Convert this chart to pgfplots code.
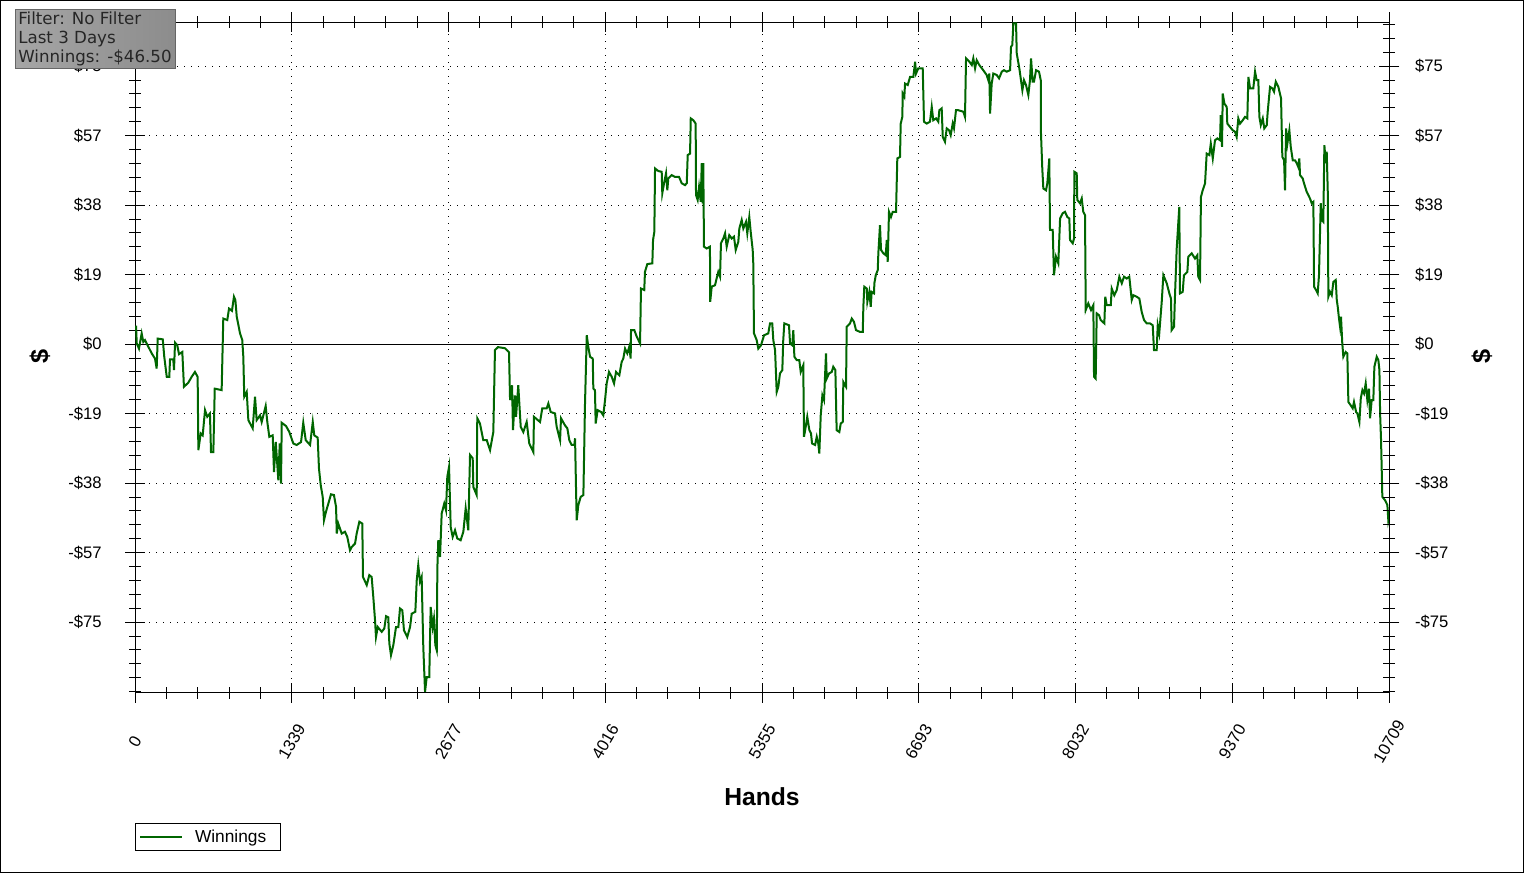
\documentclass[border=0pt]{standalone}
\usepackage{fontspec}
\setmainfont{Liberation Sans}
\newfontfamily\infofont{DejaVu Sans}
\usepackage{pgfplots}
\usepackage{pgfplotstable}
\pgfplotsset{compat=1.18}
\definecolor{wgreen}{RGB}{0,102,0}

\pgfplotstableread{
x y
0 4.7
9 4.7
15 0.2
34 -1.2
57 2.9
71 0.6
85 1.1
114 -0.7
143 -2.5
171 -3.9
185 -6.6
194 1.5
237 1.3
250 -3.4
271 -8.8
293 -8.8
299 -4.1
327 -4.1
333 -7.0
342 0.4
361 -0.3
376 -2.7
404 -2.1
418 -11.5
455 -10.4
484 -8.8
512 -7.5
535 -8.8
541 -28.6
561 -24.1
578 -24.6
598 -17.8
617 -19.6
640 -18.7
649 -29.1
669 -29.1
681 -12.0
740 -12.4
754 6.9
788 6.5
803 9.6
828 9.0
845 12.8
857 11.9
869 7.4
897 2.9
916 1.1
925 -3.4
933 -14.2
954 -12.9
968 -20.5
1005 -22.7
1025 -14.2
1039 -20.5
1068 -19.2
1082 -21.0
1116 -16.7
1130 -21.0
1147 -25.0
1176 -24.6
1187 -34.5
1202 -26.4
1224 -36.7
1236 -26.8
1247 -37.6
1253 -21.2
1290 -22.1
1318 -23.7
1352 -26.8
1381 -27.2
1418 -26.4
1437 -21.2
1458 -25.9
1495 -27.2
1518 -21.0
1531 -24.6
1560 -25.2
1571 -33.5
1586 -38.0
1603 -41.2
1614 -47.5
1631 -45.2
1674 -40.5
1699 -40.7
1717 -43.9
1723 -51.1
1736 -48.4
1765 -51.1
1793 -50.6
1813 -52.0
1836 -55.6
1851 -54.7
1879 -53.8
1893 -51.1
1916 -47.9
1941 -48.4
1947 -62.8
1979 -65.0
2001 -62.3
2021 -62.8
2035 -68.2
2050 -74.5
2058 -79.0
2073 -76.3
2107 -77.6
2129 -76.7
2144 -73.4
2163 -73.7
2172 -80.7
2186 -83.9
2206 -81.2
2229 -76.3
2249 -76.3
2263 -71.3
2283 -71.8
2297 -77.2
2325 -79.0
2349 -76.3
2363 -72.7
2394 -72.2
2406 -63.7
2419 -59.6
2434 -64.1
2448 -62.8
2462 -81.7
2477 -93.8
2491 -89.8
2513 -89.8
2525 -70.9
2542 -76.3
2553 -74.0
2565 -81.2
2577 -82.6
2582 -60.5
2590 -52.9
2605 -57.4
2619 -45.7
2641 -43.0
2656 -44.8
2667 -35.8
2682 -33.1
2696 -49.3
2713 -52.0
2733 -50.2
2752 -52.4
2781 -52.9
2804 -50.6
2824 -44.3
2846 -50.2
2861 -29.9
2884 -30.8
2889 -38.5
2918 -40.7
2923 -20.0
2946 -21.4
2974 -25.9
3004 -25.9
3032 -28.6
3060 -23.7
3074 -1.6
3100 -0.8
3160 -1.1
3194 -2.2
3203 -15.1
3220 -11.1
3228 -23.2
3245 -13.8
3254 -19.6
3273 -11.1
3294 -22.3
3316 -23.7
3345 -21.0
3367 -26.8
3402 -29.1
3407 -19.6
3459 -21.0
3478 -17.3
3516 -17.3
3530 -16.0
3550 -18.3
3587 -18.7
3601 -22.3
3630 -25.9
3638 -20.0
3672 -21.9
3692 -22.7
3709 -25.9
3729 -27.2
3752 -27.2
3758 -25.4
3766 -38.5
3772 -47.5
3786 -43.4
3806 -41.2
3829 -40.7
3837 -26.8
3843 -16.0
3858 2.4
3871 -0.7
3886 -3.4
3909 -3.9
3914 -12.0
3928 -12.4
3934 -21.4
3951 -17.8
3980 -18.3
3999 -19.2
4014 -15.1
4028 -10.6
4048 -7.5
4071 -8.8
4091 -10.6
4108 -7.5
4136 -8.4
4156 -4.8
4170 -3.9
4185 -1.2
4204 -2.5
4221 -0.7
4233 -3.9
4236 3.8
4264 3.8
4285 2.0
4313 0.2
4321 15.0
4349 14.6
4355 19.5
4375 21.6
4418 21.8
4424 28.1
4435 30.3
4441 47.4
4469 46.7
4498 46.5
4503 40.7
4518 43.4
4535 46.1
4546 41.5
4554 44.7
4583 45.6
4612 45.1
4646 45.1
4669 43.4
4697 42.9
4712 43.4
4720 51.0
4740 51.4
4746 60.9
4768 60.4
4788 59.5
4791 40.2
4805 38.9
4817 42.4
4831 38.4
4840 48.8
4848 38.0
4853 48.8
4859 26.3
4882 25.8
4910 26.3
4912 11.4
4925 15.5
4953 15.9
4981 19.5
4996 18.2
5004 27.2
5024 28.5
5039 29.9
5053 26.3
5075 29.4
5096 28.5
5115 29.0
5130 25.4
5152 27.6
5161 31.2
5181 33.5
5195 31.2
5218 33.0
5229 29.9
5246 34.3
5258 30.3
5275 25.4
5280 21.8
5286 2.9
5309 1.1
5323 -1.2
5346 -0.3
5372 2.4
5408 2.9
5423 5.6
5442 5.6
5451 1.1
5466 -1.6
5480 -12.9
5494 -11.5
5508 -7.9
5528 -7.0
5536 1.1
5545 5.6
5585 5.1
5594 0.2
5613 -0.3
5622 3.8
5631 -3.4
5651 -4.3
5673 -4.3
5685 -7.5
5707 -5.7
5713 -25.0
5730 -21.9
5741 -19.6
5759 -23.2
5773 -24.1
5782 -26.8
5808 -27.2
5822 -25.0
5835 -26.8
5844 -29.5
5856 -19.2
5870 -13.8
5884 -15.1
5901 -2.5
5907 -9.3
5927 -7.9
5950 -7.5
5963 -6.1
5981 -7.0
5992 -23.2
6015 -23.7
6027 -21.4
6044 -21.0
6049 -10.2
6072 -11.5
6078 4.7
6106 5.6
6121 6.9
6140 6.0
6157 3.8
6191 3.3
6215 3.3
6220 10.1
6228 15.5
6249 15.0
6254 11.4
6271 14.1
6283 10.1
6291 14.1
6311 13.7
6314 16.4
6326 18.6
6343 20.0
6348 24.5
6362 32.1
6371 25.4
6391 24.5
6411 24.0
6420 28.1
6428 22.2
6439 35.7
6456 34.3
6471 35.7
6499 35.7
6510 50.1
6533 50.5
6539 59.5
6553 61.3
6556 67.6
6570 66.7
6576 70.3
6599 69.9
6619 72.1
6647 72.1
6662 76.2
6670 73.0
6689 74.4
6727 74.4
6738 60.0
6761 59.5
6789 60.0
6804 64.0
6817 60.4
6841 60.9
6860 60.0
6869 63.1
6889 63.6
6898 55.9
6917 54.6
6932 58.2
6952 57.7
6966 56.4
6983 59.5
6994 58.2
7011 63.1
7031 63.1
7074 62.7
7088 61.3
7097 77.1
7125 76.2
7146 75.3
7159 77.1
7174 74.4
7188 76.6
7210 75.3
7244 73.9
7273 72.6
7287 71.2
7296 73.0
7302 62.2
7316 70.3
7330 73.0
7359 72.6
7379 71.7
7402 73.5
7421 73.9
7444 73.5
7473 73.9
7481 80.2
7492 80.7
7501 86.5
7524 86.5
7530 78.4
7552 74.4
7564 71.7
7578 68.5
7592 71.2
7609 69.9
7629 67.2
7643 71.2
7652 77.1
7666 70.8
7677 70.8
7695 73.9
7720 73.5
7735 71.2
7737 56.8
7748 47.4
7757 42.0
7780 41.5
7791 43.4
7800 46.9
7808 50.1
7814 30.8
7837 30.8
7848 18.6
7865 23.6
7885 21.8
7900 33.9
7922 35.3
7942 35.7
7962 34.3
7979 33.9
7985 28.1
8008 27.2
8019 28.5
8022 46.5
8042 46.1
8047 38.9
8070 38.0
8085 39.3
8098 35.7
8113 34.8
8119 9.2
8141 11.0
8164 9.2
8184 10.5
8190 -8.8
8204 -9.3
8213 8.3
8233 7.8
8247 6.5
8264 6.0
8278 5.6
8286 12.8
8298 10.5
8333 10.5
8341 15.0
8363 13.2
8384 14.6
8406 18.2
8427 16.4
8446 18.2
8469 17.7
8491 18.2
8512 11.9
8526 13.2
8554 12.8
8577 12.3
8597 8.7
8617 6.5
8640 5.6
8668 5.6
8691 5.1
8702 -1.6
8725 -1.6
8734 5.1
8747 2.9
8768 11.4
8782 18.6
8811 16.4
8833 13.7
8847 12.3
8853 3.8
8873 4.7
8882 13.7
8896 25.8
8918 37.0
8924 13.7
8947 14.1
8958 18.6
8987 19.5
8995 23.6
9024 24.5
9052 23.1
9072 24.0
9080 18.2
9095 17.3
9103 39.7
9118 41.5
9138 43.4
9152 51.4
9175 51.0
9187 54.1
9204 50.1
9223 55.0
9243 55.5
9266 55.0
9272 61.8
9283 53.2
9289 67.6
9303 64.9
9323 64.0
9328 59.5
9351 58.6
9374 57.7
9394 57.3
9408 55.9
9422 60.9
9437 59.5
9460 60.4
9479 61.3
9499 60.9
9508 72.1
9522 69.0
9550 69.0
9565 73.5
9579 71.2
9593 71.2
9602 61.3
9614 59.1
9631 60.9
9644 58.2
9665 59.1
9673 62.7
9693 69.4
9713 69.0
9727 68.1
9742 70.8
9764 69.4
9787 66.3
9793 57.7
9798 50.5
9813 49.6
9821 41.5
9830 58.2
9841 54.1
9858 57.7
9870 53.2
9887 49.6
9906 49.6
9921 48.8
9934 47.8
9943 50.1
9949 45.6
9972 44.7
9983 43.4
10006 41.1
10020 40.2
10034 39.3
10049 38.0
10063 38.4
10069 15.5
10086 14.6
10100 13.7
10111 18.6
10126 38.0
10134 33.5
10148 33.0
10157 53.7
10169 48.8
10177 51.9
10186 41.1
10191 12.8
10205 14.1
10220 13.2
10234 16.8
10254 17.3
10263 11.9
10271 10.1
10282 6.9
10291 4.7
10299 7.4
10310 0.2
10319 -3.4
10339 -2.1
10353 -2.5
10362 -15.6
10382 -16.5
10399 -17.3
10410 -15.6
10428 -18.3
10439 -18.7
10456 -21.0
10468 -14.6
10482 -12.4
10496 -13.3
10510 -10.6
10524 -15.1
10538 -12.0
10547 -20.0
10561 -15.1
10575 -15.1
10584 -6.1
10604 -3.4
10618 -4.3
10627 -7.0
10633 -18.7
10641 -25.9
10652 -41.2
10675 -42.1
10695 -43.4
10703 -47.5
10709 -46.5
}\winnings

\pgfplotsset{
  commonaxis/.style={
    at={(101.25pt,135pt)}, anchor=south west,
    scale only axis, width=940.5pt, height=503.25pt,
    xmin=0, xmax=10709, ymin=-94.1, ymax=86.9,
    scaled ticks=false,
    ytick={-75,-56.25,-37.5,-18.75,0,18.75,37.5,56.25,75},
    yticklabels={-\$75,-\$57,-\$38,-\$19,\$0,\$19,\$38,\$57,\$75},
    minor ytick={-93.75,-90,...,86.25},
    tick align=center,
    major tick length=15pt, minor tick length=8.5pt,
    axis line style={line width=0.75pt, black},
    every tick/.style={black, line width=0.75pt},
    tick label style={font=\fontsize{12.5}{14}\selectfont, black},
    /pgf/number format/assume math mode=true,
  }
}

\begin{document}
\begin{tikzpicture}
\useasboundingbox (0,0) rectangle (1143pt,654.75pt);
\fill[white] (0,0) rectangle (1143pt,654.75pt);
\begin{axis}[
  commonaxis,
  xtick={0,1339,2677,4016,5355,6693,8032,9370,10709},
  xticklabels={0,1339,2677,4016,5355,6693,8032,9370,10709},
  minor xtick={0,267.725,...,10709},
  xtick pos=both, ytick pos=both,
  xticklabel pos=lower, yticklabel pos=left,
  xticklabel style={yshift=-29pt, rotate=60, anchor=center},
  yticklabel style={xshift=-14pt},
  grid=major,
  major grid style={black, line width=0.75pt, dash pattern=on 0.75pt off 4.5pt},
  xlabel={Hands},
  xlabel style={at={(axis description cs:0.5,0)}, anchor=center, yshift=-78pt,
    font=\bfseries\fontsize{18.5}{20}\selectfont},
  legend style={at={(axis description cs:0,-0.1952)}, anchor=north west,
    draw=black, line width=0.75pt, inner sep=0pt, outer sep=0pt,
    font=\fontsize{13}{15}\selectfont,
    nodes={inner sep=0pt}},
  legend image code/.code={%
    \path[draw=none, fill=none] (0pt,-10.125pt) rectangle (45pt,10.125pt);
    \draw[#1] (3.75pt,0pt) -- (35.25pt,0pt);},
  legend cell align=left,
]
\addplot[black, line width=0.75pt, forget plot] coordinates {(0,0) (10709,0)};
\addplot[wgreen, line width=1.5pt] table[x=x, y=y] {\winnings};
\addlegendentry{Winnings\hspace*{11pt}}
\end{axis}
\begin{axis}[
  commonaxis,
  axis x line=none,
  axis y line*=right,
  yticklabel pos=right,
  yticklabel style={xshift=8.5pt},
]
\addplot[draw=none] coordinates {(0,0)};
\end{axis}
% axis titles on the two sides
\node[rotate=90, font=\bfseries\fontsize{19}{20}\selectfont] at (30pt,387.75pt) {\$};
\node[rotate=90, font=\bfseries\fontsize{19}{20}\selectfont] at (1111.5pt,387.75pt) {\$};
% info box
\shade[left color=black!35, middle color=black!8, right color=black!45]
  (11.25pt,603pt) rectangle (131.25pt,647.25pt);
\draw[black!60, line width=0.75pt] (11.25pt,603pt) rectangle (131.25pt,647.25pt);
\begin{scope}[every node/.style={anchor=base west, inner sep=0pt,
    font=\infofont\fontsize{12.5}{14}\selectfont, text=black!85}]
\node at (13.5pt,636pt) {Filter: No Filter};
\node at (13.5pt,621.75pt) {Last 3 Days};
\node at (13.5pt,607.5pt) {Winnings: -\$46.50};
\end{scope}
% outer frame
\draw[black, line width=0.75pt] (0.375pt,0.375pt) rectangle (1142.625pt,654.375pt);
\end{tikzpicture}
\end{document}
